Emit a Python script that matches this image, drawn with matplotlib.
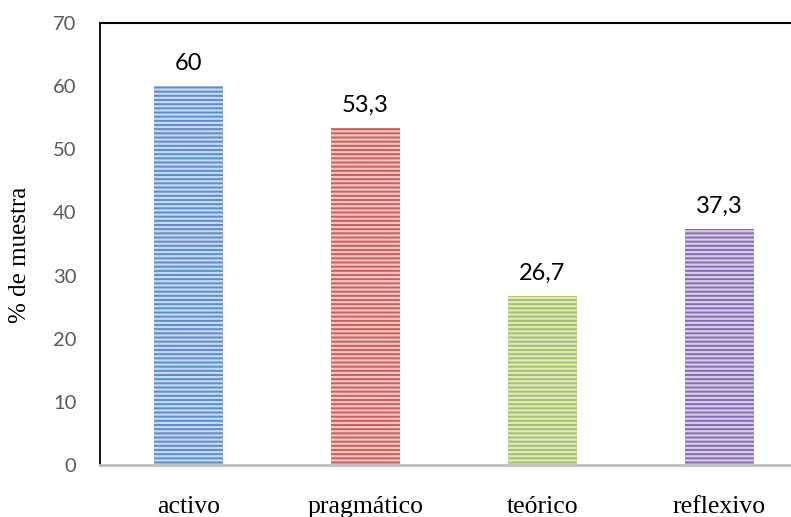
import matplotlib
matplotlib.use("Agg")
import matplotlib.pyplot as plt

categorias = ["activo", "pragmático", "teórico", "reflexivo"]
valores = [60, 53.3, 26.7, 37.3]
etiquetas = ["60", "53,3", "26,7", "37,3"]
colores = ["#5b8ccc", "#cf5c5a", "#a3c263", "#8a6bb0"]
rayas = ["#c6d8f0", "#f2c6c5", "#dde9c4", "#d6cbe6"]

plt.rcParams['hatch.linewidth'] = 1.6

fig = plt.figure(figsize=(7.91, 5.17), dpi=100)
ax = fig.add_axes([100 / 791, 52 / 517, 708 / 791, 442 / 517])

x = range(len(categorias))
ax.bar(x, valores, width=0.39, color=colores, linewidth=0, zorder=2)
for i, v in enumerate(valores):
    ax.bar(i, v, width=0.39, facecolor="none", edgecolor=rayas[i],
           hatch="----", linewidth=0, zorder=3)
    ax.text(i, v + 2.6, etiquetas[i], ha="center", va="baseline",
            fontsize=17, family="Lato", color="black")

ax.set_xlim(-0.5, 3.5)
ax.set_ylim(0, 70)
ax.set_yticks(range(0, 71, 10))
ax.set_xticks(list(x))
ax.set_xticklabels(categorias, family="Liberation Serif", fontsize=18.5)
for lab in ax.get_yticklabels():
    lab.set_family("Lato")
    lab.set_fontsize(14.5)
    lab.set_color("#595959")
ax.tick_params(axis="both", length=0)
ax.tick_params(axis="y", pad=17)
ax.tick_params(axis="x", pad=22.5)

ax.set_ylabel("% de muestra", family="Liberation Serif", fontsize=18, labelpad=15)
ax.yaxis.set_label_coords(-0.097, 0.475)

ax.spines["right"].set_visible(False)
ax.spines["top"].set_linewidth(1.5)
ax.spines["left"].set_linewidth(1.3)
ax.spines["bottom"].set_color("#bfbfbf")
ax.spines["bottom"].set_linewidth(2)
ax.spines["bottom"].set_zorder(4)

fig.savefig("out.png", dpi=100)
plt.close()
